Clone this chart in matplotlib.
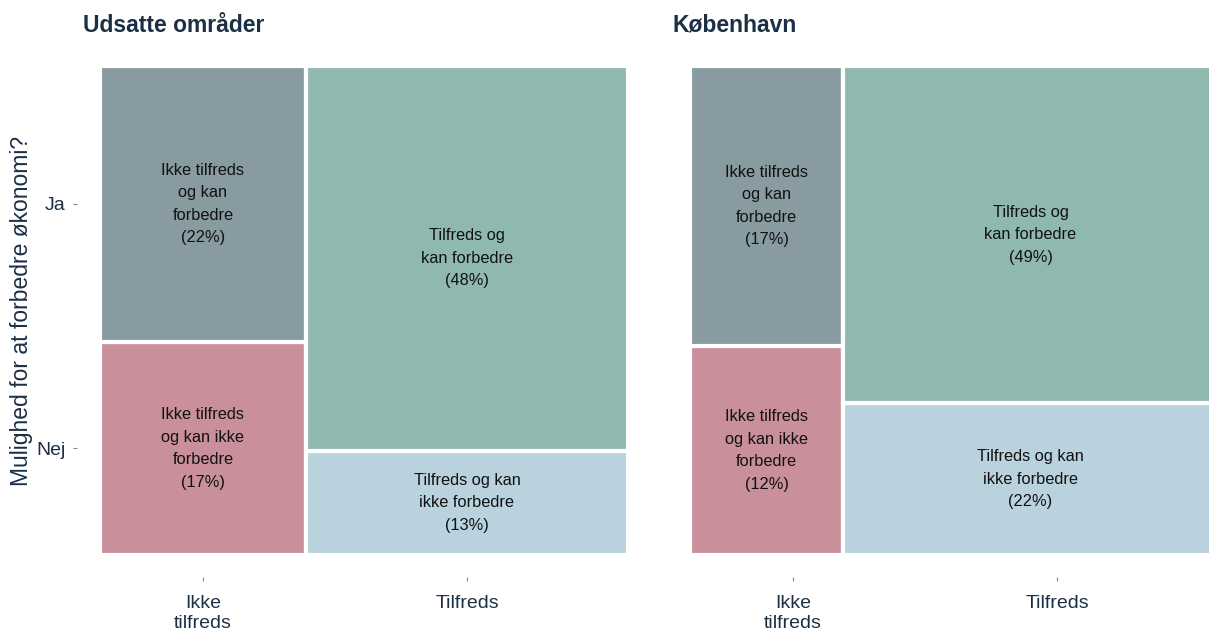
import matplotlib
matplotlib.use("Agg")
import matplotlib.pyplot as plt
from matplotlib.patches import Rectangle

plt.rcParams['font.family'] = ['Liberation Sans', 'DejaVu Sans']

# ---- data ----
regions = ["Udsatte områder", "København"]
satisfaction = ["Ikke tilfreds", "Tilfreds"]
x_tick_labels = ["Ikke\ntilfreds", "Tilfreds"]
possibility = ["Ja", "Nej"]
# percentages [satisfaction][possibility] (estimated from tile sizes)
udsatte_ja = [22.0, 48.0]
udsatte_nej = [17.0, 13.0]
kbh_ja = [16.6, 49.0]
kbh_nej = [12.4, 22.0]
udsatte_labels_ja = ["Ikke tilfreds\nog kan\nforbedre", "Tilfreds og\nkan forbedre"]
udsatte_labels_nej = ["Ikke tilfreds\nog kan ikke\nforbedre", "Tilfreds og kan\nikke forbedre"]
kbh_labels_ja = ["Ikke tilfreds\nog kan\nforbedre", "Tilfreds og\nkan forbedre"]
kbh_labels_nej = ["Ikke tilfreds\nog kan ikke\nforbedre", "Tilfreds og kan\nikke forbedre"]
y_label = "Mulighed for at forbedre økonomi?"

colors_ja = ["#889BA1", "#8FB9AF"]
colors_nej = ["#C98F9B", "#B9D2DE"]
navy = "#1B2F45"

W, H = 1209, 628
fig = plt.figure(figsize=(W / 100, H / 100), dpi=100)


def px_axes(x0, x1, y0, y1):
    return fig.add_axes([x0 / W, 1 - y1 / H, (x1 - x0) / W, (y1 - y0) / H])


exp_x = 23 / 528
exp_y = 22 / 489


def mosaic(ax, ja, nej, lab_ja, lab_nej):
    totals = [a + b for a, b in zip(ja, nej)]
    grand = sum(totals)
    x = 0.0
    for i in range(len(totals)):
        w = totals[i] / grand
        fnej = nej[i] / totals[i]
        fja = ja[i] / totals[i]
        ax.add_patch(Rectangle((x, 0), w, fnej, facecolor=colors_nej[i],
                               edgecolor="white", linewidth=3.0))
        ax.add_patch(Rectangle((x, fnej), w, fja, facecolor=colors_ja[i],
                               edgecolor="white", linewidth=3.0))
        ax.text(x + w / 2, fnej / 2, f"{lab_nej[i]}\n({round(nej[i])}%)", ha="center",
                va="center", fontsize=11.8, color="#111111", linespacing=1.62)
        ax.text(x + w / 2, fnej + fja / 2, f"{lab_ja[i]}\n({round(ja[i])}%)", ha="center",
                va="center", fontsize=11.8, color="#111111", linespacing=1.62)
        x += w
    ax.set_xlim(-exp_x, 1 + exp_x)
    ax.set_ylim(-exp_y, 1 + exp_y)
    for s in ax.spines.values():
        s.set_visible(False)
    ax.tick_params(length=3, width=0.8, color="#888888", labelcolor=navy,
                   labelsize=14)
    ax.tick_params(axis="x", pad=10)
    ax.tick_params(axis="y", pad=5)


def breaks(ja, nej):
    totals = [a + b for a, b in zip(ja, nej)]
    grand = sum(totals)
    xs = []
    x = 0.0
    for t in totals:
        xs.append(x + t / grand / 2)
        x += t / grand
    fnej = nej[0] / totals[0]
    ys = [fnej + (1 - fnej) / 2, fnej / 2]
    return xs, ys


xb, yb = breaks(udsatte_ja, udsatte_nej)

ax1 = px_axes(77, 651, 44, 577)
mosaic(ax1, udsatte_ja, udsatte_nej, udsatte_labels_ja, udsatte_labels_nej)
ax1.set_xticks(xb)
ax1.set_xticklabels(x_tick_labels)
ax1.set_yticks(yb)
ax1.set_yticklabels(possibility)
ax1.set_ylabel(y_label, fontsize=16.5, color=navy, labelpad=2.5)
ax1.set_title(regions[0], loc="left", fontsize=16.5, fontweight="bold",
              color=navy, x=6 / 574, pad=9)

ax2 = px_axes(667, 1241, 44, 577)
mosaic(ax2, kbh_ja, kbh_nej, kbh_labels_ja, kbh_labels_nej)
ax2.set_xticks(xb)
ax2.set_xticklabels(x_tick_labels)
ax2.set_yticks([])
ax2.set_title(regions[1], loc="left", fontsize=16.5, fontweight="bold",
              color=navy, x=6 / 574, pad=9)

fig.savefig("out.png", dpi=100)
